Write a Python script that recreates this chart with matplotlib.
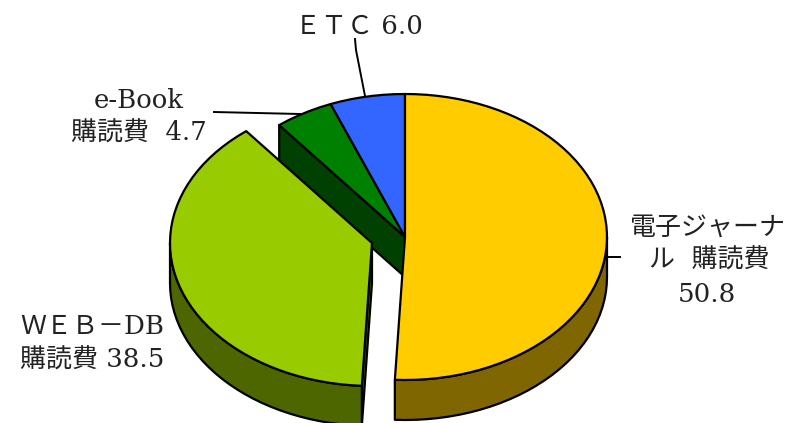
import numpy as np
from matplotlib import pyplot as plt

plt.rcParams['font.family'] = ['DejaVu Serif', 'Noto Sans CJK JP']

# share of each slice, clockwise from 12 o'clock
names = ['電子ジャーナル', 'WEB-DB', 'e-Book', 'ETC']
values = [50.8, 38.5, 4.7, 6.0]
top_colors = ['#FFCC00', '#99CC00', '#008000', '#3366FF']
side_colors = ['#806600', '#4D6600', '#004000', '#1A3380']
offsets = [(0, 0), (-33, 6), (0, 0), (0, 0)]

cx, cy = 405, 237
rx, ry = 202, 143
depth = 40
edge = dict(edgecolor='black', linewidth=1.6, joinstyle='round')


def point(a, off=(0, 0), drop=0):
	# a is degrees clockwise from the top
	r = np.radians(a)
	return (cx + off[0] + rx*np.sin(r), cy + off[1] + drop - ry*np.cos(r))


def arc(a0, a1, off=(0, 0), drop=0):
	n = max(2, int(abs(a1 - a0)/3) + 1)
	return [point(a, off, drop) for a in np.linspace(a0, a1, n)]


def poly(ax, pts, color):
	xs, ys = zip(*pts)
	ax.fill(xs, ys, facecolor=color, **edge)


fig = plt.figure(figsize=(7.88, 4.23), dpi=100)
ax = fig.add_axes([0, 0, 1, 1])
ax.set_xlim(0, 788)
ax.set_ylim(423, 0)
ax.axis('off')

bounds = np.cumsum([0] + values)*3.6
spans = list(zip(bounds[:-1], bounds[1:]))

# cut face of the e-Book slice shows through the gap
a = spans[2][0]
o = offsets[2]
poly(ax, [point(a), (cx, cy), (cx, cy + depth), point(a, o, depth)], side_colors[2])

# back slices first
for i in [2, 3]:
	a0, a1 = spans[i]
	poly(ax, [(cx, cy)] + arc(a0, a1), top_colors[i])

# yellow slice with its rim
a0, a1 = spans[0]
poly(ax, arc(90, a1) + arc(a1, 90, drop=depth), side_colors[0])
poly(ax, [(cx, cy)] + arc(a0, a1), top_colors[0])

# pulled out slice, rim and the thin cut face on its right
a0, a1 = spans[1]
o = offsets[1]
hub = (cx + o[0], cy + o[1])
poly(ax, [hub, point(a0, o), point(a0, o, depth), (hub[0], hub[1] + depth)], side_colors[1])
poly(ax, arc(a0, 270, o) + arc(270, a0, o, depth), side_colors[1])
poly(ax, [hub] + arc(a0, a1, o), top_colors[1])

# leader lines
ax.plot([355, 356, 365], [39, 50, 96], color='black', lw=1.4)
ax.plot([214, 300], [112, 114], color='black', lw=1.4)
ax.plot([607, 620], [257, 257], color='black', lw=1.4)

fs = 18.7
tc = '#222222'
ax.text(359, 26, 'ＥＴＣ %.1f' % values[3], fontsize=fs, color=tc, ha='center', va='center')
ax.text(139, 100, names[2], fontsize=fs, color=tc, ha='center', va='center')
ax.text(139, 133, '購読費  %.1f' % values[2], fontsize=fs, color=tc, ha='center', va='center')
ax.text(707, 227, '電子ジャーナ', fontsize=fs, color=tc, ha='center', va='center')
ax.text(709, 260, 'ル  購読費', fontsize=fs, color=tc, ha='center', va='center')
ax.text(707, 295, '%.1f' % values[0], fontsize=fs, color=tc, ha='center', va='center')
ax.text(92, 327, 'ＷＥＢ－DB', fontsize=fs, color=tc, ha='center', va='center')
ax.text(92, 360, '購読費 %.1f' % values[1], fontsize=fs, color=tc, ha='center', va='center')

fig.savefig('out.png', dpi=100)
